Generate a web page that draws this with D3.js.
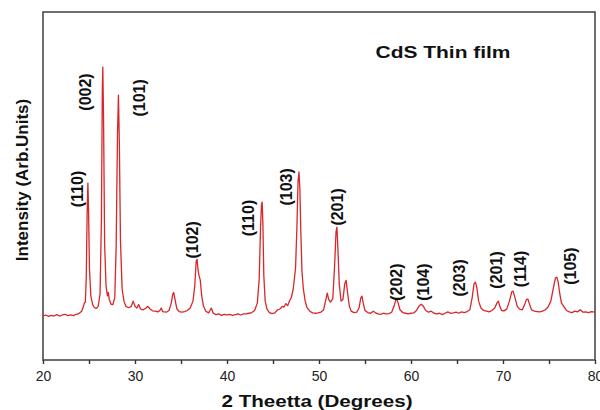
<!DOCTYPE html>
<html>
<head>
<meta charset="utf-8">
<script src="https://cdn.jsdelivr.net/npm/d3@7"></script>
<style>
  body { margin: 0; background: #fff; }
  svg { display: block; font-family: "Liberation Sans", Arial, sans-serif; }
</style>
</head>
<body>
<svg id="xrd"></svg>
<script>
// 2-theta (degrees)
const theta = [
  20.0, 20.3, 20.6, 20.9, 21.2, 21.5, 21.8, 22.1, 22.4, 22.7, 23.0, 23.3, 23.6, 23.9, 24.2, 24.4, 24.5, 24.6, 24.7, 24.8,
  24.88, 24.95, 25.05, 25.2, 25.4, 25.6, 25.8, 26.0, 26.2, 26.35, 26.45, 26.5, 26.58, 26.7, 26.85, 27.0, 27.1, 27.2, 27.4, 27.6,
  27.8, 27.95, 28.1, 28.2, 28.3, 28.42, 28.6, 28.8, 29.0, 29.3, 29.6, 29.8, 30.0, 30.2, 30.4, 30.6, 30.9, 31.2, 31.4, 31.6,
  31.9, 32.2, 32.5, 32.7, 32.85, 33.0, 33.4, 33.7, 33.95, 34.1, 34.2, 34.35, 34.55, 34.8, 35.1, 35.4, 35.7, 36.0, 36.3, 36.5,
  36.65, 36.75, 36.85, 36.95, 37.1, 37.25, 37.45, 37.7, 38.0, 38.15, 38.3, 38.5, 38.8, 39.1, 39.4, 39.7, 40.0, 40.3, 40.6, 40.9,
  41.2, 41.5, 41.8, 42.1, 42.4, 42.7, 43.0, 43.3, 43.5, 43.65, 43.75, 43.82, 43.9, 44.0, 44.15, 44.35, 44.6, 44.9, 45.2, 45.5,
  45.8, 46.0, 46.2, 46.4, 46.6, 46.8, 47.0, 47.2, 47.45, 47.6, 47.72, 47.82, 47.92, 48.02, 48.15, 48.3, 48.5, 48.7, 49.0, 49.3,
  49.6, 49.9, 50.2, 50.5, 50.75, 50.9, 51.05, 51.25, 51.5, 51.7, 51.85, 51.95, 52.05, 52.2, 52.4, 52.6, 52.8, 52.95, 53.1, 53.3,
  53.5, 53.8, 54.1, 54.35, 54.55, 54.68, 54.8, 55.0, 55.3, 55.6, 55.9, 56.1, 56.4, 56.7, 57.0, 57.3, 57.6, 57.9, 58.15, 58.35,
  58.45, 58.6, 58.8, 59.1, 59.4, 59.7, 60.0, 60.3, 60.6, 60.85, 61.1, 61.35, 61.6, 61.9, 62.2, 62.5, 62.8, 63.1, 63.4, 63.7,
  64.0, 64.3, 64.6, 64.9, 65.2, 65.5, 65.8, 66.1, 66.4, 66.65, 66.85, 67.0, 67.15, 67.35, 67.6, 67.9, 68.2, 68.5, 68.8, 69.1,
  69.35, 69.5, 69.65, 69.85, 70.1, 70.4, 70.7, 70.95, 71.1, 71.3, 71.55, 71.8, 72.1, 72.35, 72.55, 72.7, 72.9, 73.1, 73.4, 73.7,
  74.0, 74.3, 74.6, 74.9, 75.2, 75.45, 75.7, 75.85, 76.0, 76.15, 76.35, 76.6, 76.9, 77.2, 77.5, 77.8, 78.1, 78.4, 78.7, 79.0,
  79.3, 79.6, 80.0
];

// intensity (arb. units) at each 2-theta
const intensity = [
  122, 125, 121, 124, 122, 126, 122, 125, 127, 123, 125, 123, 127, 129, 136, 150, 160, 162, 230, 420,
  506, 430, 260, 180, 155, 146, 144, 150, 185, 400, 780, 841, 700, 330, 210, 180, 190, 170, 156, 155,
  175, 320, 650, 760, 620, 340, 200, 165, 150, 146, 150, 165, 150, 145, 155, 142, 140, 145, 150, 143,
  137, 136, 134, 138, 145, 135, 133, 138, 160, 185, 190, 170, 143, 135, 133, 135, 138, 145, 165, 210,
  280, 286, 255, 240, 225, 180, 150, 136, 131, 138, 145, 130, 126, 128, 124, 127, 125, 127, 124, 126,
  128, 125, 128, 128, 130, 132, 138, 160, 230, 380, 445, 451, 390, 240, 165, 142, 132, 129, 131, 140,
  143, 150, 148, 158, 152, 166, 176, 200, 260, 380, 510, 538, 490, 370, 250, 200, 165, 146, 136, 131,
  130, 131, 133, 140, 170, 188, 170, 162, 172, 270, 365, 379, 320, 215, 165, 170, 215, 225, 190, 150,
  136, 132, 133, 145, 175, 179, 160, 138, 132, 130, 136, 132, 128, 127, 130, 128, 129, 133, 150, 168,
  171, 160, 140, 132, 130, 128, 130, 131, 138, 150, 156, 150, 138, 133, 136, 130, 128, 130, 126, 130,
  134, 130, 131, 133, 130, 134, 132, 135, 140, 175, 215, 220, 205, 165, 145, 138, 136, 134, 138, 145,
  160, 165, 150, 138, 137, 142, 165, 192, 194, 175, 150, 142, 140, 155, 170, 171, 155, 140, 136, 135,
  134, 136, 140, 148, 165, 200, 232, 234, 220, 190, 160, 150, 138, 134, 132, 136, 134, 140, 133, 134,
  132, 135, 133
];

// Miller-index labels: text, 2-theta of label centre, intensity level of label centre
const hklText  = ["(110)", "(002)", "(101)", "(102)", "(110)", "(103)", "(201)", "(202)", "(104)", "(203)", "(201)", "(114)", "(105)"];
const hklTheta = [23.78, 24.65, 30.47, 36.28, 42.32, 46.45, 51.99, 58.40, 61.34, 65.25, 69.27, 71.88, 77.32];
const hklLevel = [489, 769, 752, 342, 405, 495, 437, 220, 220, 232, 255, 258, 266];

const xTicks = [20, 25, 30, 35, 40, 45, 50, 55, 60, 65, 70, 75, 80];

const W = 600, H = 410;
const mL = 43, mR = 595, mT = 12, mB = 360;

const svg = d3.select("#xrd").attr("width", W).attr("height", H);

const x = d3.scaleLinear().domain([20, 80]).range([mL, mR]);
const y = d3.scaleLinear().domain([-5, 1000]).range([mB, mT]);

// frame
svg.append("rect")
    .attr("x", mL).attr("y", mT)
    .attr("width", mR - mL).attr("height", mB - mT)
    .attr("fill", "none")
    .attr("stroke", "#4a4a4a")
    .attr("stroke-width", 1.6);

// x axis
const xAxis = d3.axisBottom(x)
    .tickValues(xTicks)
    .tickSize(4)
    .tickPadding(7)
    .tickFormat(d => d % 10 === 0 ? d : "");

const gx = svg.append("g")
    .attr("transform", `translate(0,${mB})`)
    .call(xAxis);
gx.select(".domain").remove();
gx.selectAll(".tick line").attr("stroke", "#333").attr("stroke-width", 1.4);
gx.selectAll(".tick text")
    .attr("fill", "#222")
    .style("font-size", "14px")
    .style("font-family", "'Liberation Sans', Arial, sans-serif");

// pattern
const pts = theta.map((t, i) => [t, intensity[i]]);
const line = d3.line().x(d => x(d[0])).y(d => y(d[1]));

svg.append("path")
    .datum(pts)
    .attr("d", line)
    .attr("fill", "none")
    .attr("stroke", "#d9262a")
    .attr("stroke-width", 1.3)
    .attr("stroke-linejoin", "round");

// hkl labels
svg.selectAll(".hkl")
    .data(hklText)
    .join("text")
    .attr("class", "hkl")
    .attr("transform", (d, i) => `translate(${x(hklTheta[i])},${y(hklLevel[i])}) rotate(-90)`)
    .attr("text-anchor", "middle")
    .attr("dy", "0.35em")
    .style("font-size", "16px")
    .style("font-weight", "bold")
    .attr("fill", "#111")
    .text(d => d);

// title
svg.append("text")
    .attr("x", 443).attr("y", 58)
    .attr("text-anchor", "middle")
    .attr("textLength", 135)
    .attr("lengthAdjust", "spacingAndGlyphs")
    .style("font-size", "16px")
    .style("font-weight", "bold")
    .attr("fill", "#111")
    .text("CdS Thin film");

// axis titles
svg.append("text")
    .attr("x", 317).attr("y", 407)
    .attr("text-anchor", "middle")
    .attr("textLength", 191)
    .attr("lengthAdjust", "spacingAndGlyphs")
    .style("font-size", "17px")
    .style("font-weight", "bold")
    .attr("fill", "#111")
    .text("2 Theetta (Degrees)");

svg.append("text")
    .attr("transform", "translate(28,180) rotate(-90)")
    .attr("text-anchor", "middle")
    .style("font-size", "17px")
    .style("font-weight", "bold")
    .attr("fill", "#111")
    .text("Intensity (Arb.Units)");
</script>
</body>
</html>
